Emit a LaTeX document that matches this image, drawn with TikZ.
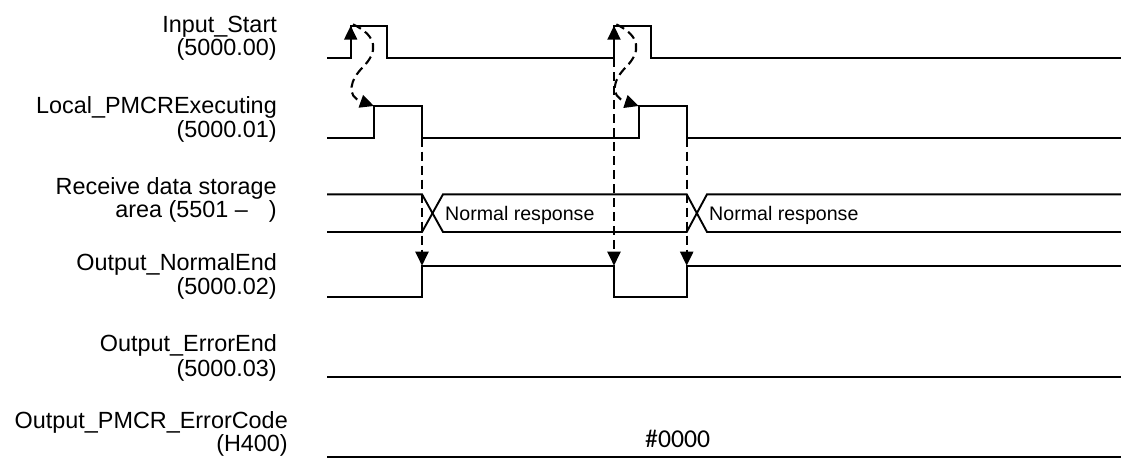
\documentclass[tikz,border=0pt]{standalone}
\usepackage{fontspec}
\setmainfont{Liberation Sans}
\newfontfamily\calibfont{Carlito}
\usetikzlibrary{arrows.meta}
\begin{document}
\begin{tikzpicture}[x=1pt,y=-1pt,
  sig/.style={line width=1.9pt, line join=miter},
  dsh/.style={line width=2.1pt, dash pattern=on 9pt off 5pt},
  tipA/.style={-{Triangle[length=14pt,width=13pt]}},
  lbl/.style={anchor=base east, inner sep=0pt, font=\fontsize{23.4}{24}\selectfont},
  bustxt/.style={anchor=base west, inner sep=0pt, font=\fontsize{19.6}{20}\selectfont},
  codetxt/.style={anchor=base west, inner sep=0pt, font=\calibfont\fontsize{25.7}{26}\selectfont}]
\useasboundingbox (0,0) rectangle (1121,459);

% labels
\node[lbl] (lIn1) at (277,32.3) {Input\_Start};
\node[lbl] (lIn2) at (277,55.5) {(5000.00)};
\node[lbl] (lLo1) at (277,113.5) {Local\_PMCRExecuting};
\node[lbl] (lLo2) at (277,137) {(5000.01)};
\node[lbl] (lRx1) at (277,194) {Receive data storage};
\node[lbl] (lRx2) at (277,217.3) {area (5501 \textendash\hspace{0.9em})};
\node[lbl] (lNe1) at (277,270.7) {Output\_NormalEnd};
\node[lbl] (lNe2) at (277,294) {(5000.02)};
\node[lbl] (lEe1) at (277,351) {Output\_ErrorEnd};
\node[lbl] (lEe2) at (277,376) {(5000.03)};
\node[lbl] (lEc1) at (288,428.3) {Output\_PMCR\_ErrorCode};
\node[lbl] (lEc2) at (288,451.7) {(H400)};

% event coordinates
\coordinate (inR1lo) at (350.7,58.3);
\coordinate (inR1hi) at (350.7,25.7);
\coordinate (inR2lo) at (614,58.3);
\coordinate (inR2hi) at (614,25.7);
\coordinate (loR1hi) at (374,106);
\coordinate (loR2hi) at (638.7,106);
\coordinate (loF1lo) at (422,137.7);
\coordinate (loF2lo) at (686.7,137.7);
\coordinate (neR1hi) at (422,265.7);
\coordinate (neF1hi) at (614,265.7);
\coordinate (neR2hi) at (686.7,265.7);

% Input_Start
\draw[sig] (327,58.3) -- (350.7,58.3) -- (350.7,25.7) -- (386.7,25.7) -- (386.7,58.3)
  -- (614,58.3) -- (614,25.7) -- (650.7,25.7) -- (650.7,58.3) -- (1121,58.3);
% Local_PMCRExecuting
\draw[sig] (327,137.7) -- (374,137.7) -- (374,106) -- (422,106) -- (422,137.7)
  -- (638.7,137.7) -- (638.7,106) -- (686.7,106) -- (686.7,137.7) -- (1121,137.7);
% Receive data storage area
\draw[sig] (327,194.3) -- (422,194.3) -- (443,232) -- (686.7,232) -- (707,194.3) -- (1121,194.3);
\draw[sig] (327,232) -- (422,232) -- (443,194.3) -- (686.7,194.3) -- (707,232) -- (1121,232);
\node[bustxt] (nr1) at (445,220.7) {Normal response};
\node[bustxt] (nr2) at (709,220.7) {Normal response};
% Output_NormalEnd
\draw[sig] (327,296.7) -- (422,296.7) -- (422,265.7) -- (614,265.7) -- (614,296.7)
  -- (686.7,296.7) -- (686.7,265.7) -- (1121,265.7);
% Output_ErrorEnd
\draw[sig] (327,377) -- (1121,377);
% Output_PMCR_ErrorCode
\draw[sig] (327,457.3) -- (1121,457.3);
\node[codetxt] (code) at (645,447.3) {\#0000};

% rising edge arrows
\draw[sig,tipA] (inR1lo) -- (inR1hi);
\draw[sig,tipA] (inR2lo) -- (inR2hi);

% curved dashed arrows
\draw[dsh,tipA] ([xshift=2.3pt,yshift=1.3pt]inR1hi) .. controls (378,36) and (378,52) .. (363,67)
  .. controls (350,80) and (346,96) .. (loR1hi);
\draw[dsh,tipA] ([xshift=2.3pt,yshift=1.3pt]inR2hi) .. controls (641,36) and (641,52) .. (626,67)
  .. controls (613,80) and (609,96) .. (loR2hi);

% vertical dashed arrows
\draw[dsh,tipA] (loF1lo) -- (neR1hi);
\draw[dsh,tipA] (inR2lo) -- (neF1hi);
\draw[dsh,tipA] (loF2lo) -- (neR2hi);
\end{tikzpicture}
\end{document}
